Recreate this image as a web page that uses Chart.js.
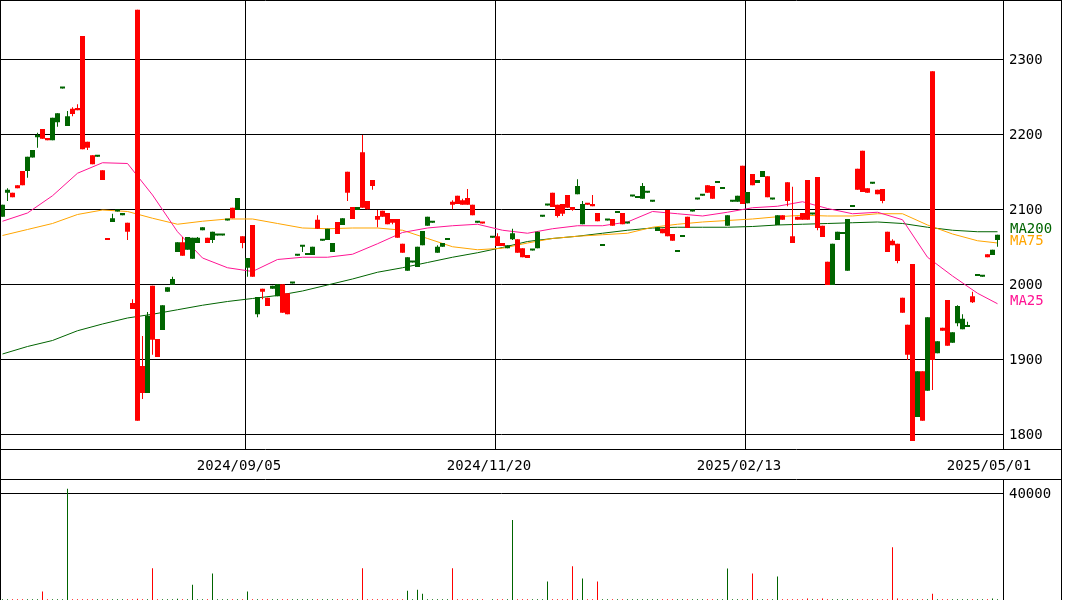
<!DOCTYPE html>
<html>
<head>
<meta charset="utf-8">
<script src="https://cdn.jsdelivr.net/npm/chart.js@4"></script>
<style>
  html, body { margin: 0; padding: 0; background: #fff; }
  #wrap { position: relative; width: 1065px; height: 600px; }
  #priceCanvas { position: absolute; left: 0; top: 0; }
  #volumeCanvas { position: absolute; left: 0; top: 480px; }
</style>
</head>
<body>
<div id="wrap">
  <canvas id="priceCanvas" width="1065" height="480"></canvas>
  <canvas id="volumeCanvas" width="1065" height="120"></canvas>
</div>
<script>
// one slot per trading day, oldest on the left
const slotCount = 200;
const tickSlots = [49, 99, 149, 199];
const tickDates = ['2024/09/05', '2024/11/20', '2025/02/13', '2025/05/01'];
const priceTicks = [1800, 1900, 2000, 2100, 2200, 2300];
const volumeTicks = [40000];

const opens = [
  2107,2127,2117,2129,2133,2171,2180,2200,2195,2193, 2223,2229,2263,2225,2228,2233,2181,2183,2161,2172,
  2140,2060,2089,2099,2096,2071,1968,1819,1856,1959, 1927,1904,1973,1997,2008,2057,2039,2064,2063,2063,
  2077,2056,2071,2067,2067,2087,2089,2116,2056,2036, 2011,1984,1991,1972,1999,2001,1963,1961,2003,2040,
  2052,2041,2051,2075,2060,2075,2056,2068,2089,2123, 2088,2104,2103,2101,2132,2087,2091,2081,2083,2063,
  2043,2037,2031,2051,2072,2091,2084,2051,2056,2061, 2107,2108,2107,2107,2093,2084,2082,null,2064,2052,
  2052,2053,2069,2043,2037,2036,2047,2071,2092,2107, 2104,2092,2095,2103,2100,2132,2108,2107,2105,2085,
  2053,2087,2079,2097,2081,2083,2119,2117,2132,2124, 2112,2077,2069,2065,2059,2045,2065,2076,2099,2115,
  2120,2123,2115,2137,2129,2093,2112,2119,2108,2124, 2133,2140,2152,2117,2115,2093,2087,2112,2056,2087,
  2087,2087,2095,2076,2064,2000,2055,2071,2069,2088, 2105,2127,2124,2123,2136,2121,2112,2044,2053,2032,
  1963,1907,1792,1885,1819,1957,1900,1925,1939,1919, 1937,1972,1955,1945,1977,2013,2012,2037,2047,2067
];
const highs = [
  2107,2129,2123,2133,2152,2171,2180,2203,2208,2196, 2223,2229,2263,2232,2237,2241,2332,2191,2173,2172,
  2153,2061,2095,2099,2096,2083,1981,2367,1932,1964, 1999,1928,1973,1997,2011,2057,2064,2064,2063,2064,
  2077,2063,2071,2067,2067,2087,2103,2116,2065,2036, 2080,1984,1995,1983,1999,2001,2001,1989,2003,2040,
  2052,2041,2051,2093,2060,2075,2056,2084,2089,2151, 2104,2104,2200,2112,2140,2100,2099,2096,2088,2088,
  2055,2037,2031,2051,2072,2091,2084,2053,2056,2061, 2113,2119,2115,2128,2107,2084,2083,null,2064,2069,
  2056,2053,2075,2061,2049,2040,2047,2071,2092,2107, 2123,2107,2108,2120,2104,2141,2112,2108,2120,2096,
  2053,2087,2088,2097,2096,2083,2119,2117,2136,2124, 2112,2077,2075,2100,2068,2045,2065,2091,2099,2115,
  2120,2133,2132,2137,2129,2093,2112,2119,2159,2124, 2148,2140,2152,2145,2115,2093,2093,2137,2131,2091,
  2096,2140,2095,2144,2079,2031,2055,2071,2069,2088, 2105,2155,2179,2129,2136,2127,2128,2071,2061,2055,
  1983,1947,2028,1885,1885,1957,2285,1925,1943,1980, 1937,1973,1961,1951,1991,2013,2012,2041,2047,2067
];
const lows = [
  2091,2112,2117,2129,2133,2143,2170,2183,2195,2193, 2193,2211,2262,2212,2225,2233,2181,2180,2161,2171,
  2140,2060,2084,2098,2093,2060,1968,1819,1848,1856, 1907,1904,1940,1991,2000,2044,2039,2047,2035,2056,
  2073,2056,2056,2066,2066,2086,2089,2100,2049,2011, 2011,1957,1981,1972,1995,1985,1963,1961,2002,2039,
  2044,2040,2040,2075,2059,2060,2044,2068,2080,2112, 2088,2100,2103,2101,2127,2077,2091,2081,2081,2063,
  2043,2019,2030,2024,2053,2079,2083,2043,2051,2060, 2101,2108,2107,2107,2093,2083,2082,null,2063,2052,
  2052,2049,2060,2043,2037,2036,2046,2049,2091,2106, 2104,2090,2092,2103,2099,2121,2081,2107,2105,2085,
  2052,2086,2079,2096,2081,2082,2118,2116,2115,2123, 2111,2072,2069,2065,2059,2044,2064,2076,2098,2114,
  2119,2123,2115,2136,2128,2079,2111,2111,2108,2109, 2133,2136,2144,2117,2114,2080,2087,2105,2056,2087,
  2087,2087,2094,2073,2064,2000,2000,2060,2068,2019, 2104,2127,2124,2123,2135,2121,2109,2044,2053,2029,
  1963,1900,1792,1824,1819,1859,1860,1909,1939,1919, 1923,1945,1941,1944,1976,2012,2011,2037,2040,2051
];
const closes = [
  2091,2123,2123,2133,2152,2152,2170,2197,2208,2196, 2193,2217,2262,2212,2235,2236,2332,2191,2173,2171,
  2153,2061,2084,2098,2093,2083,1976,2367,1892,1856, 1999,1928,1940,1991,2000,2044,2057,2047,2035,2056,
  2073,2063,2060,2066,2066,2086,2103,2100,2065,2023, 2080,1961,1995,1983,1995,1985,2001,1989,2002,2039,
  2051,2040,2040,2087,2059,2060,2044,2084,2080,2151, 2104,2100,2177,2112,2140,2092,2099,2096,2088,2088,
  2055,2019,2030,2024,2053,2079,2083,2043,2051,2060, 2111,2119,2113,2116,2107,2083,2083,null,2063,2065,
  2056,2049,2061,2061,2049,2040,2046,2049,2091,2106, 2123,2107,2108,2120,2104,2121,2081,2108,2108,2096,
  2052,2086,2088,2096,2096,2082,2118,2116,2115,2123, 2111,2072,2075,2100,2068,2044,2064,2091,2098,2114,
  2119,2133,2132,2136,2128,2079,2111,2111,2159,2109, 2148,2136,2144,2145,2114,2080,2093,2137,2065,2091,
  2096,2140,2094,2144,2079,2031,2000,2060,2068,2019, 2104,2155,2179,2129,2135,2127,2128,2071,2059,2055,
  1983,1947,2028,1824,1885,1859,2285,1909,1943,1980, 1923,1949,1941,1944,1985,2012,2011,2041,2040,2060
];
const volumes = [
  300,300,300,300,300,300,300,300,3200,300, 300,300,300,42000,300,300,300,300,300,300,
  300,300,300,300,300,300,300,500,300,300, 12000,300,300,300,300,500,300,300,5800,300,
  300,300,10000,300,300,300,300,300,300,3200, 300,300,300,300,300,300,300,300,300,300,
  300,300,300,300,300,300,300,300,300,300, 300,300,12000,300,300,300,300,300,300,300,
  300,3500,300,3900,2400,300,300,300,300,300, 12000,300,300,300,300,300,300,null,300,300,
  300,300,30200,300,300,300,300,300,300,7000, 300,300,300,300,12700,300,8100,300,300,7000,
  300,300,300,300,300,300,300,300,300,300, 300,300,300,300,300,300,300,300,300,300,
  300,300,300,300,300,11900,300,300,300,300, 10000,300,300,300,300,8900,300,300,300,300,
  300,600,300,300,600,300,300,300,300,300, 300,300,300,300,300,300,300,300,19900,600,
  300,300,300,300,300,300,2400,300,300,300, 300,300,300,300,300,300,300,300,600,300
];

// moving averages, every 5 slots
const maSlots = [0,5,10,15,20,25,30,35,40,45,50,55,60,65,70,75,80,85,90,95,
  100,105,110,115,120,125,130,135,140,145,150,155,160,165,170,175,180,185,190,195,199];
const ma25 = [2085,2096,2119,2149,2163,2162,2120,2071,2036,2023,2018,2034,2037,2037,2041,2055,2070,2076,2079,2081,
  2073,2069,2075,2079,2079,2084,2098,2095,2092,2097,2103,2105,2111,2102,2095,2097,2087,2037,2012,1989,1975];
const ma75 = [2066,2074,2082,2094,2100,2098,2089,2081,2085,2088,2088,2082,2076,2075,2076,2076,2073,2062,2051,2047,
  2049,2056,2062,2065,2067,2069,2077,2081,2084,2086,2088,2091,2093,2092,2092,2095,2095,2080,2068,2059,2056];
const ma200 = [1908,1918,1926,1939,1948,1956,1961,1967,1973,1978,1982,1986,1992,2000,2008,2017,2023,2030,2037,2043,
  2050,2058,2062,2065,2069,2073,2076,2077,2077,2077,2078,2080,2081,2082,2083,2084,2082,2077,2073,2071,2071];

const UP = '#ff0000';
const DOWN = '#006400';
const FONT = { family: "'DejaVu Sans Mono', monospace", size: 14 };

Chart.defaults.font = FONT;
Chart.defaults.color = '#000';
Chart.defaults.animation = false;

const candleSlots = [];
for (let i = 0; i < slotCount; i++) {
    if (opens[i] != null) candleSlots.push(i);
}
const slotColor = i => (closes[i] >= opens[i] ? UP : DOWN);

const maLines = [
    { label: 'MA25', values: ma25, color: '#ff1493' },
    { label: 'MA75', values: ma75, color: '#ffa500' },
    { label: 'MA200', values: ma200, color: '#006400' },
];

function lineAt(ctx, x1, y1, x2, y2) {
    ctx.beginPath();
    ctx.moveTo(x1, y1);
    ctx.lineTo(x2, y2);
    ctx.stroke();
}

const priceFrame = {
    id: 'priceFrame',
    afterDraw(chart) {
        const ctx = chart.ctx;
        const a = chart.chartArea;
        const w = chart.width;
        const h = chart.height;
        ctx.save();
        ctx.strokeStyle = '#000';
        ctx.lineWidth = 1;
        lineAt(ctx, 0.5, 0, 0.5, h);
        lineAt(ctx, 0, 0.5, w - 3, 0.5);
        lineAt(ctx, w - 3.5, 0, w - 3.5, h);
        lineAt(ctx, a.right + 0.5, 0, a.right + 0.5, a.bottom);
        lineAt(ctx, 0, a.bottom + 0.5, w - 3, a.bottom + 0.5);
        lineAt(ctx, 0, h - 0.5, w - 3, h - 0.5);
        // MA names next to the last value
        ctx.font = "14px 'DejaVu Sans Mono', monospace";
        ctx.textBaseline = 'middle';
        ctx.textAlign = 'left';
        maLines.forEach(m => {
            const y = chart.scales.y.getPixelForValue(m.values[m.values.length - 1]) - 2;
            ctx.fillStyle = m.color;
            ctx.fillText(m.label, a.right + 7, y);
        });
        ctx.restore();
    }
};

const volumeFrame = {
    id: 'volumeFrame',
    afterDraw(chart) {
        const ctx = chart.ctx;
        const a = chart.chartArea;
        const w = chart.width;
        const h = chart.height;
        ctx.save();
        ctx.strokeStyle = '#000';
        ctx.lineWidth = 1;
        lineAt(ctx, 0.5, 0, 0.5, h);
        lineAt(ctx, a.right + 0.5, 0, a.right + 0.5, h);
        lineAt(ctx, w - 3.5, 0, w - 3.5, h);
        ctx.restore();
    }
};

const xScale = (showLabels) => ({
    type: 'linear',
    min: -0.5,
    max: 200.1,
    offset: false,
    display: showLabels,
    border: { display: false },
    grid: {
        offset: false,
        drawTicks: false,
        color: c => (c.index < tickSlots.length - 1 ? '#000' : 'rgba(0,0,0,0)'),
        lineWidth: 1,
    },
    ticks: {
        autoSkip: false,
        maxRotation: 0,
        padding: 9,
        labelOffset: -6,
        callback: (v, i) => tickDates[i],
    },
    afterBuildTicks: s => { s.ticks = tickSlots.map(v => ({ value: v - 0.5 })); },
    afterFit: s => { s.height = showLabels ? 31 : 0; s.paddingLeft = 0; s.paddingRight = 0; },
});

const rightAxis = (min, max, ticks) => ({
    position: 'right',
    min: min,
    max: max,
    border: { display: false },
    grid: { color: '#000', lineWidth: 1, drawTicks: false },
    ticks: { padding: 6, callback: v => String(v) },
    afterBuildTicks: s => { s.ticks = ticks.map(v => ({ value: v })); },
    afterFit: s => { s.width = 62; s.paddingTop = 0; s.paddingBottom = 0; },
});

new Chart(document.getElementById('priceCanvas'), {
    type: 'bar',
    data: {
        datasets: [
            {
                type: 'bar',
                data: candleSlots.map(i => ({ x: i, y: [opens[i], closes[i]] })),
                backgroundColor: candleSlots.map(slotColor),
                barThickness: 5,
                minBarLength: 2,
                grouped: false,
                inflateAmount: 0,
                borderWidth: 0,
            },
            {
                type: 'bar',
                data: candleSlots.map(i => ({ x: i, y: [lows[i], highs[i]] })),
                backgroundColor: candleSlots.map(slotColor),
                barThickness: 1,
                grouped: false,
                inflateAmount: 0,
                borderWidth: 0,
            },
            ...maLines.map(m => ({
                type: 'line',
                label: m.label,
                data: maSlots.map((s, k) => ({ x: s, y: m.values[k] })),
                borderColor: m.color,
                borderWidth: 1,
                pointRadius: 0,
                tension: 0,
            })),
        ]
    },
    options: {
        responsive: false,
        layout: { padding: 0 },
        plugins: { legend: { display: false }, tooltip: { enabled: false } },
        scales: {
            x: xScale(true),
            y: rightAxis(1781.33, 2380, priceTicks),
        }
    },
    plugins: [priceFrame]
});

const volSlots = [];
for (let i = 0; i < slotCount; i++) {
    if (volumes[i] != null) volSlots.push(i);
}

new Chart(document.getElementById('volumeCanvas'), {
    type: 'bar',
    data: {
        datasets: [{
            data: volSlots.map(i => ({ x: i, y: volumes[i] })),
            backgroundColor: volSlots.map(slotColor),
            barThickness: 1,
            inflateAmount: 0,
            borderWidth: 0,
        }]
    },
    options: {
        responsive: false,
        layout: { padding: 0 },
        plugins: { legend: { display: false }, tooltip: { enabled: false } },
        scales: {
            x: xScale(false),
            y: rightAxis(0, 45283, volumeTicks),
        }
    },
    plugins: [volumeFrame]
});
</script>
</body>
</html>
